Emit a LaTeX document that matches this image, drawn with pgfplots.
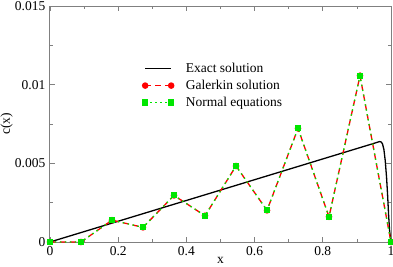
\documentclass[border=0pt]{standalone}
\usepackage{pgfplots}
\pgfplotsset{compat=1.18}
\usepackage{fontspec}
\setmainfont{Liberation Serif}
\definecolor{axgray}{RGB}{128,128,128}
\definecolor{mygreen}{RGB}{0,230,0}
\begin{document}
\fontsize{13.5}{16}\selectfont
\begin{tikzpicture}
\begin{axis}[
  name=ax,
  scale only axis,
  width=341pt, height=236pt,
  xmin=0, xmax=1, ymin=0, ymax=0.015,
  xtick={0,0.2,0.4,0.6,0.8,1},
  ytick={0,0.005,0.01,0.015},
  minor x tick num=1, minor y tick num=1,
  tick align=inside,
  major tick length=5pt, minor tick length=3pt,
  axis line style={axgray, line width=1pt},
  every tick/.style={axgray, line width=0.8pt},
  scaled y ticks=false,
  scaled x ticks=false,
  yticklabel style={/pgf/number format/fixed,/pgf/number format/precision=3},
  /pgf/number format/assume math mode=true,
  tick label style={font=\fontsize{13.5}{16}\selectfont},
  xlabel={x}, ylabel={c(x)},
  label style={font=\fontsize{13.5}{16}\selectfont},
  xlabel style={yshift=8pt},
  ylabel style={yshift=-7pt},
  clip=false,
  legend style={draw=none, fill=none, at={(0.268,0.772)}, anchor=north west,
    font=\fontsize{13.5}{16}\selectfont, row sep=1.5pt, column sep=10pt, inner sep=1pt},
  legend cell align=left,
  legend image code/.code={\draw[mark repeat=2,mark phase=1,#1] plot coordinates {(0pt,0pt) (13pt,0pt) (26pt,0pt)};},
]
\addplot[black, line width=1.3pt, mark=none] coordinates {
(0,0) (0.1,0.00066) (0.2,0.00132) (0.3,0.00198) (0.4,0.00264) (0.5,0.0033)
(0.6,0.00396) (0.7,0.00462) (0.8,0.00528) (0.9,0.00594) (0.95,0.00627)
(0.96,0.00634) (0.966,0.00638) (0.971,0.00636) (0.975,0.00624) (0.979,0.0059)
(0.983,0.0052) (0.987,0.0041) (0.99,0.0030) (0.993,0.0017) (0.996,0.0007) (1,0)
};
\addlegendentry{Exact solution}
\addplot[red, line width=1.3pt, dash pattern=on 6pt off 4pt, mark=*, mark size=2.6pt, mark options={solid, fill=red}] coordinates {
(0,0) (0.0909,0.0000) (0.1818,0.00139) (0.2727,0.00093) (0.3636,0.00296)
(0.4545,0.00167) (0.5455,0.00483) (0.6364,0.00201) (0.7273,0.00722)
(0.8182,0.00160) (0.9091,0.01057) (1,0)
};
\addlegendentry{Galerkin solution}
\addplot[mygreen, line width=1.3pt, dash pattern=on 1.5pt off 3.5pt, mark=square*, mark size=2.4pt, mark options={solid, fill=mygreen}] coordinates {
(0,0) (0.0909,0.0000) (0.1818,0.00139) (0.2727,0.00093) (0.3636,0.00296)
(0.4545,0.00167) (0.5455,0.00483) (0.6364,0.00201) (0.7273,0.00722)
(0.8182,0.00160) (0.9091,0.01057) (1,0)
};
\addlegendentry{Normal equations}
\end{axis}
\pgfresetboundingbox
\path ([xshift=-50pt,yshift=-24pt]ax.south west) rectangle ([xshift=2pt,yshift=6pt]ax.north east);
\end{tikzpicture}
\end{document}
